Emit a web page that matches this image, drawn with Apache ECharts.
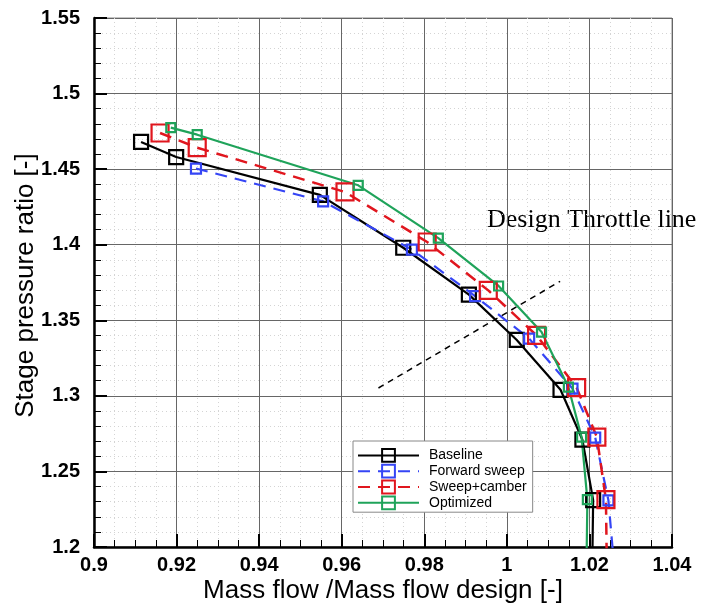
<!DOCTYPE html>
<html>
<head>
<meta charset="utf-8">
<script src="https://cdn.jsdelivr.net/npm/echarts@6/dist/echarts.min.js"></script>
<style>
  html, body { margin: 0; padding: 0; background: #fff; }
  #echart { width: 712px; height: 604px; }
</style>
</head>
<body>
<div id="echart"></div>
<script>
// Data
var baselineX = [0.9114, 0.9199, 0.9547, 0.9749, 0.9908, 1.0024, 1.0130, 1.0183, 1.0209, 1.0207];
var baselineY = [1.468, 1.458, 1.433, 1.398, 1.367, 1.337, 1.304, 1.271, 1.231, 1.19];

var forwardX = [0.9247, 0.9555, 0.9770, 0.9923, 1.0054, 1.0159, 1.0214, 1.0246, 1.0259];
var forwardY = [1.4504, 1.4287, 1.3968, 1.366, 1.3379, 1.3048, 1.2724, 1.2309, 1.19];

var camberX = [0.9160, 0.9250, 0.9608, 0.9807, 0.9955, 1.0072, 1.0169, 1.0218, 1.0240, 1.0242];
var camberY = [1.4739, 1.4642, 1.4349, 1.4018, 1.3698, 1.340, 1.3054, 1.2727, 1.2313, 1.19];

var optimizedX = [0.9186, 0.9250, 0.9640, 0.9834, 0.9980, 1.0084, 1.0149, 1.0181, 1.0195, 1.0193];
var optimizedY = [1.4775, 1.4728, 1.4393, 1.4044, 1.3727, 1.3422, 1.3058, 1.2727, 1.2313, 1.19];

var throttleX = [0.9689, 1.0129];
var throttleY = [1.3052, 1.3758];

var seriesNames = ['Baseline', 'Forward sweep', 'Sweep+camber', 'Optimized'];

function pairs(xs, ys) {
  return xs.map(function (x, i) { return [x, ys[i]]; });
}

function curve(name, xs, ys, color, dashed, size, width) {
  return {
    name: name,
    type: 'line',
    data: pairs(xs, ys),
    symbol: 'rect',
    symbolSize: size,
    showAllSymbol: true,
    clip: true,
    lineStyle: { color: color, width: width, type: dashed ? [12, 8] : 'solid' },
    itemStyle: { color: 'rgba(255,255,255,0)', borderColor: color, borderWidth: 2.2 },
    emphasis: { disabled: true }
  };
}

var axisFont = 'Liberation Sans, Helvetica, Arial, sans-serif';

const option = {
  animation: false,
  backgroundColor: '#fff',
  grid: {
    left: 94, right: 40, top: 18, bottom: 57,
    containLabel: false,
    outerBoundsMode: 'none',
    show: true,
    borderColor: '#8a8a8a',
    borderWidth: 1
  },
  legend: {
    data: seriesNames,
    orient: 'vertical',
    left: 353,
    top: 441,
    padding: [7, 6, 2, 4],
    itemGap: 1,
    itemWidth: 61,
    itemHeight: 16,
    backgroundColor: '#fff',
    borderColor: '#888',
    borderWidth: 1,
    textStyle: { color: '#000', fontSize: 14, fontFamily: axisFont, padding: [0, 0, 0, 5] }
  },
  xAxis: {
    type: 'value',
    min: 0.9,
    max: 1.04,
    interval: 0.02,
    name: 'Mass flow /Mass flow design [-]',
    nameLocation: 'middle',
    nameGap: 31,
    nameMoveOverlap: false,
    nameTextStyle: { color: '#000', fontSize: 26, fontFamily: axisFont },
    axisLine: { onZero: false, lineStyle: { color: '#000', width: 2.5 } },
    axisTick: { inside: true, length: 13, lineStyle: { color: '#000', width: 2 } },
    minorTick: { show: true, splitNumber: 4, length: 7, lineStyle: { color: '#000', width: 1 } },
    axisLabel: { color: '#000', fontSize: 20, fontWeight: 'bold', fontFamily: axisFont, margin: 8 },
    splitLine: { show: true, lineStyle: { color: '#666', width: 1 } },
    minorSplitLine: { show: true, lineStyle: { color: '#d4d4d4', width: 1, type: [1, 3] } }
  },
  yAxis: {
    type: 'value',
    min: 1.2,
    max: 1.55,
    interval: 0.05,
    name: 'Stage pressure ratio [-]',
    nameLocation: 'middle',
    nameGap: 55,
    nameMoveOverlap: false,
    nameTextStyle: { color: '#000', fontSize: 26, fontFamily: axisFont, padding: [0, 6, 0, 0] },
    axisLine: { onZero: false, lineStyle: { color: '#000', width: 2.5 } },
    axisTick: { inside: true, length: 13, lineStyle: { color: '#000', width: 2 } },
    minorTick: { show: true, splitNumber: 5, length: 7, lineStyle: { color: '#000', width: 1 } },
    axisLabel: { color: '#000', fontSize: 20, fontWeight: 'bold', fontFamily: axisFont, margin: 14 },
    splitLine: { show: true, lineStyle: { color: '#666', width: 1 } },
    minorSplitLine: { show: true, lineStyle: { color: '#d4d4d4', width: 1, type: [1, 3] } }
  },
  graphic: [{
    type: 'text',
    x: 487,
    y: 220,
    style: {
      text: 'Design Throttle line',
      fill: '#000',
      font: '26px "Liberation Serif", "Times New Roman", serif',
      verticalAlign: 'middle'
    }
  }],
  series: [
    {
      name: 'Design Throttle line',
      type: 'line',
      data: pairs(throttleX, throttleY),
      symbol: 'none',
      lineStyle: { color: '#000', width: 1.5, type: [6, 5] },
      emphasis: { disabled: true }
    },
    curve('Baseline', baselineX, baselineY, '#000000', false, 14, 2.2),
    curve('Forward sweep', forwardX, forwardY, '#3545f5', true, 10, 2.2),
    curve('Sweep+camber', camberX, camberY, '#e0161e', true, 17, 2.5),
    curve('Optimized', optimizedX, optimizedY, '#1fa35a', false, 9, 2.2)
  ]
};

const chart = echarts.init(document.getElementById('echart'));
chart.setOption(option);
</script>
</body>
</html>
